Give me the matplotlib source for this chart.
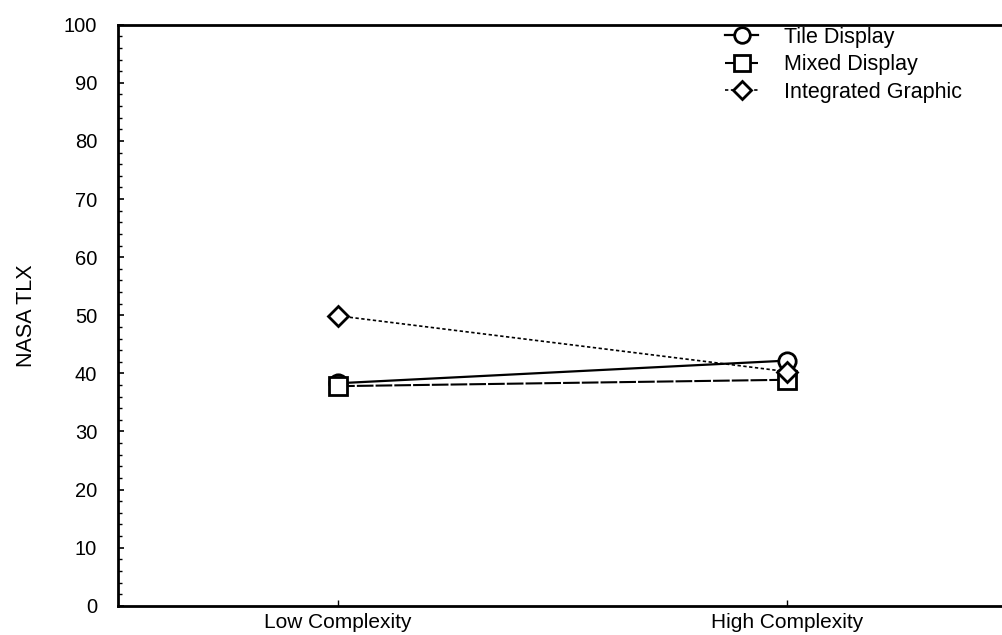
import matplotlib
matplotlib.use("Agg")
import matplotlib.pyplot as plt
from matplotlib.ticker import MultipleLocator

plt.rcParams['font.family'] = ['Liberation Sans', 'DejaVu Sans']

categories = ["Low Complexity", "High Complexity"]
tile_display = [38.3, 42.2]
mixed_display = [37.8, 38.9]
integrated_graphic = [49.9, 40.3]

fig = plt.figure(figsize=(10.03, 6.35), dpi=100)
ax = fig.add_axes([0.1176, 0.046, 0.8824, 0.915])

x = list(range(len(categories)))
ax.plot(x, tile_display, color='black', lw=1.6, ls='-', marker='o', ms=12.5,
        mfc='white', mec='black', mew=2.0, label='Tile Display', zorder=3)
ax.plot(x, mixed_display, color='black', lw=1.5, ls=(0, (8, 1)), marker='s', ms=12.5,
        mfc='white', mec='black', mew=2.0, label='Mixed Display', zorder=4)
ax.plot(x, integrated_graphic, color='black', lw=1.2, ls=(0, (2, 1.5)), marker='D', ms=10.5,
        mfc='white', mec='black', mew=2.0, label='Integrated Graphic', zorder=5)

ax.set_xlim(-0.49, 1.48)
ax.set_ylim(0, 100)
ax.set_xticks(x)
ax.set_xticklabels(categories, fontsize=15)
ax.set_yticks(range(0, 101, 10))
ax.tick_params(axis='y', labelsize=14.5, direction='in', length=4, width=1.2, pad=15)
ax.yaxis.set_minor_locator(MultipleLocator(2))
ax.tick_params(axis='y', which='minor', direction='in', length=3, width=1.0)
ax.tick_params(axis='x', direction='in', length=4, width=1.0, pad=5)
ax.set_ylabel("NASA TLX", fontsize=15.5, labelpad=19)

ax.spines['right'].set_visible(False)
for s in ['left', 'top', 'bottom']:
    ax.spines[s].set_linewidth(2.0)

handles, labels = ax.get_legend_handles_labels()
leg = fig.legend(handles, labels, loc='upper left',
                 bbox_to_anchor=(725 / 1003, 1 - 27 / 635),
                 bbox_transform=fig.transFigure, frameon=False,
                 fontsize=15.5, handlelength=1.55, handletextpad=1.2,
                 labelspacing=0.3, borderpad=0, borderaxespad=0,
                 markerscale=0.9)

fig.savefig("out.png", dpi=100)
